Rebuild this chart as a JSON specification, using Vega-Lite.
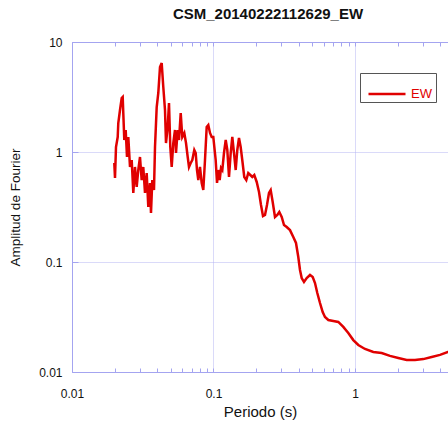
{
  "$schema": "https://vega.github.io/schema/vega-lite/v6.json",
  "autosize": "none",
  "width": 376,
  "height": 330,
  "padding": {"left": 72, "top": 42, "right": 0, "bottom": 49},
  "background": "white",
  "config": {
    "view": {"stroke": null},
    "font": "Liberation Sans",
    "axis": {
      "domainColor": "#a4a4f0",
      "tickColor": "#a4a4f0",
      "gridColor": "#b4b4f2",
      "gridDash": [1, 1],
      "labelColor": "#111111",
      "titleColor": "#111111",
      "labelFont": "Liberation Sans",
      "titleFont": "Liberation Sans",
      "labelFontSize": 12,
      "titleFontSize": 13.5,
      "titleFontWeight": "normal"
    }
  },
  "title": {
    "text": "CSM_20140222112629_EW",
    "font": "Liberation Sans",
    "fontSize": 15,
    "fontWeight": "bold",
    "color": "#111111",
    "anchor": "middle",
    "dx": 8,
    "offset": 14
  },
  "data": {
    "values": [
      {"periodo": 0.0199, "amp": 0.794},
      {"periodo": 0.02013, "amp": 0.58},
      {"periodo": 0.02046, "amp": 1.11},
      {"periodo": 0.02104, "amp": 1.369},
      {"periodo": 0.02124, "amp": 1.835},
      {"periodo": 0.02184, "amp": 2.409},
      {"periodo": 0.02245, "amp": 3.097},
      {"periodo": 0.02282, "amp": 3.162},
      {"periodo": 0.02304, "amp": 2.262},
      {"periodo": 0.02342, "amp": 1.286},
      {"periodo": 0.02396, "amp": 1.585},
      {"periodo": 0.02447, "amp": 0.901},
      {"periodo": 0.025, "amp": 1.369},
      {"periodo": 0.0257, "amp": 0.731},
      {"periodo": 0.02642, "amp": 0.846},
      {"periodo": 0.02712, "amp": 0.424},
      {"periodo": 0.02787, "amp": 0.731},
      {"periodo": 0.02865, "amp": 0.481},
      {"periodo": 0.02941, "amp": 0.686},
      {"periodo": 0.03024, "amp": 0.901},
      {"periodo": 0.03108, "amp": 0.556},
      {"periodo": 0.0319, "amp": 0.731},
      {"periodo": 0.0328, "amp": 0.424},
      {"periodo": 0.03372, "amp": 0.644},
      {"periodo": 0.03461, "amp": 0.316},
      {"periodo": 0.03558, "amp": 0.523},
      {"periodo": 0.03616, "amp": 0.279},
      {"periodo": 0.03694, "amp": 0.556},
      {"periodo": 0.03797, "amp": 0.451},
      {"periodo": 0.0386, "amp": 1.11},
      {"periodo": 0.03968, "amp": 2.565},
      {"periodo": 0.04073, "amp": 3.439},
      {"periodo": 0.04187, "amp": 5.926},
      {"periodo": 0.04304, "amp": 6.444},
      {"periodo": 0.04418, "amp": 3.899},
      {"periodo": 0.04542, "amp": 2.409},
      {"periodo": 0.04616, "amp": 1.207},
      {"periodo": 0.04746, "amp": 1.688},
      {"periodo": 0.04847, "amp": 2.79},
      {"periodo": 0.04951, "amp": 1.11},
      {"periodo": 0.05065, "amp": 0.731},
      {"periodo": 0.05198, "amp": 1.207},
      {"periodo": 0.05344, "amp": 1.585},
      {"periodo": 0.05433, "amp": 0.979},
      {"periodo": 0.05585, "amp": 1.585},
      {"periodo": 0.05705, "amp": 1.286},
      {"periodo": 0.05865, "amp": 2.262},
      {"periodo": 0.06019, "amp": 1.369},
      {"periodo": 0.06218, "amp": 1.489},
      {"periodo": 0.06393, "amp": 1.207},
      {"periodo": 0.06572, "amp": 0.901},
      {"periodo": 0.06713, "amp": 0.731},
      {"periodo": 0.06901, "amp": 0.794},
      {"periodo": 0.07083, "amp": 0.846},
      {"periodo": 0.07316, "amp": 1.043},
      {"periodo": 0.07485, "amp": 0.979},
      {"periodo": 0.07645, "amp": 0.686},
      {"periodo": 0.07809, "amp": 0.556},
      {"periodo": 0.08027, "amp": 0.731},
      {"periodo": 0.08252, "amp": 0.523},
      {"periodo": 0.0847, "amp": 0.451},
      {"periodo": 0.08708, "amp": 0.846},
      {"periodo": 0.08951, "amp": 1.688},
      {"periodo": 0.0919, "amp": 1.76},
      {"periodo": 0.09447, "amp": 1.489},
      {"periodo": 0.09712, "amp": 1.369},
      {"periodo": 0.09968, "amp": 1.369},
      {"periodo": 0.1036, "amp": 0.846},
      {"periodo": 0.1059, "amp": 0.523},
      {"periodo": 0.1081, "amp": 0.686},
      {"periodo": 0.1106, "amp": 0.556},
      {"periodo": 0.113, "amp": 0.715},
      {"periodo": 0.1154, "amp": 0.686},
      {"periodo": 0.1186, "amp": 0.979},
      {"periodo": 0.122, "amp": 1.286},
      {"periodo": 0.1252, "amp": 1.043},
      {"periodo": 0.1287, "amp": 0.593},
      {"periodo": 0.1323, "amp": 0.979},
      {"periodo": 0.1358, "amp": 1.369},
      {"periodo": 0.1396, "amp": 0.979},
      {"periodo": 0.1435, "amp": 0.686},
      {"periodo": 0.1473, "amp": 1.043},
      {"periodo": 0.1514, "amp": 1.34},
      {"periodo": 0.1556, "amp": 1.11},
      {"periodo": 0.1597, "amp": 0.846},
      {"periodo": 0.165, "amp": 0.593},
      {"periodo": 0.1705, "amp": 0.556},
      {"periodo": 0.1761, "amp": 0.644},
      {"periodo": 0.182, "amp": 0.618},
      {"periodo": 0.188, "amp": 0.593},
      {"periodo": 0.1942, "amp": 0.618},
      {"periodo": 0.202, "amp": 0.534},
      {"periodo": 0.2097, "amp": 0.433},
      {"periodo": 0.2166, "amp": 0.33},
      {"periodo": 0.2238, "amp": 0.262},
      {"periodo": 0.2312, "amp": 0.268},
      {"periodo": 0.2388, "amp": 0.33},
      {"periodo": 0.2467, "amp": 0.424},
      {"periodo": 0.2536, "amp": 0.451},
      {"periodo": 0.262, "amp": 0.351},
      {"periodo": 0.272, "amp": 0.2565},
      {"periodo": 0.2824, "amp": 0.268},
      {"periodo": 0.2917, "amp": 0.285},
      {"periodo": 0.3034, "amp": 0.2565},
      {"periodo": 0.315, "amp": 0.217},
      {"periodo": 0.3292, "amp": 0.208},
      {"periodo": 0.3472, "amp": 0.195},
      {"periodo": 0.3664, "amp": 0.169},
      {"periodo": 0.3828, "amp": 0.149},
      {"periodo": 0.3974, "amp": 0.111},
      {"periodo": 0.4086, "amp": 0.0846},
      {"periodo": 0.42, "amp": 0.0715},
      {"periodo": 0.436, "amp": 0.0658},
      {"periodo": 0.4557, "amp": 0.0715},
      {"periodo": 0.4808, "amp": 0.0762},
      {"periodo": 0.5025, "amp": 0.0731},
      {"periodo": 0.5216, "amp": 0.0644},
      {"periodo": 0.5415, "amp": 0.0523},
      {"periodo": 0.5658, "amp": 0.0424},
      {"periodo": 0.591, "amp": 0.0351},
      {"periodo": 0.6137, "amp": 0.0316},
      {"periodo": 0.6477, "amp": 0.0297},
      {"periodo": 0.7024, "amp": 0.0291},
      {"periodo": 0.7621, "amp": 0.0285},
      {"periodo": 0.8266, "amp": 0.0257},
      {"periodo": 0.8967, "amp": 0.0226},
      {"periodo": 0.9727, "amp": 0.0195},
      {"periodo": 1.055, "amp": 0.0176},
      {"periodo": 1.177, "amp": 0.0162},
      {"periodo": 1.347, "amp": 0.0152},
      {"periodo": 1.544, "amp": 0.0149},
      {"periodo": 1.767, "amp": 0.014},
      {"periodo": 2.023, "amp": 0.0134},
      {"periodo": 2.32, "amp": 0.01285},
      {"periodo": 2.655, "amp": 0.01285},
      {"periodo": 3.039, "amp": 0.0131},
      {"periodo": 3.483, "amp": 0.0137},
      {"periodo": 3.988, "amp": 0.0143},
      {"periodo": 4.542, "amp": 0.0152},
      {"periodo": 5.17, "amp": 0.0162}
    ]
  },
  "layer": [
    {
      "mark": {"type": "line", "strokeWidth": 2.5, "clip": true, "interpolate": "linear"},
      "encoding": {
        "x": {
          "field": "periodo",
          "type": "quantitative",
          "scale": {"type": "log", "domain": [0.01, 4.542], "nice": false},
          "axis": {
            "orient": "bottom",
            "title": "Periodo (s)",
            "titleFontSize": 15,
            "values": [0.01, 0.02, 0.03, 0.04, 0.05, 0.06, 0.07, 0.08, 0.09, 0.1, 0.2, 0.3, 0.4, 0.5, 0.6, 0.7, 0.8, 0.9, 1, 2, 3, 4],
            "labelExpr": "abs(log(datum.value)/LN10 - round(log(datum.value)/LN10)) < 0.000001 ? format(datum.value, '~g') : ''",
            "labelFlush": false,
            "labelOverlap": false,
            "tickSize": -4,
            "labelPadding": 20,
            "titlePadding": 5,
            "grid": true,
            "gridOpacity": {"condition": {"test": "abs(log(datum.value)/LN10 - round(log(datum.value)/LN10)) < 0.000001", "value": 1}, "value": 0}
          }
        },
        "y": {
          "field": "amp",
          "type": "quantitative",
          "scale": {"type": "log", "domain": [0.01, 10], "nice": false},
          "axis": {
            "title": "Amplitud de Fourier",
            "values": [0.01, 0.1, 1, 10],
            "format": "~g",
            "tickSize": -6,
            "labelPadding": 16,
            "titlePadding": 16,
            "grid": true
          }
        },
        "color": {
          "datum": "EW",
          "type": "nominal",
          "scale": {"range": ["#e00000"]},
          "legend": {
            "title": "\u00a0",
            "titleOrient": "right",
            "titleFontSize": 13,
            "titlePadding": 3,
            "orient": "none",
            "legendX": 288,
            "legendY": 31,
            "symbolType": "stroke",
            "symbolSize": 1369,
            "symbolStrokeWidth": 2.5,
            "symbolOffset": 6,
            "labelColor": "#e00000",
            "labelFontSize": 13,
            "labelFont": "Liberation Sans",
            "labelOffset": 4,
            "strokeColor": "#555555",
            "fillColor": "white",
            "padding": 1
          }
        }
      }
    },
    {
      "mark": {"type": "line", "opacity": 0},
      "encoding": {
        "x": {
          "field": "periodo",
          "type": "quantitative",
          "axis": {
            "orient": "top",
            "title": null,
            "labels": false,
            "grid": false,
            "values": [0.01, 0.02, 0.03, 0.04, 0.05, 0.06, 0.07, 0.08, 0.09, 0.1, 0.2, 0.3, 0.4, 0.5, 0.6, 0.7, 0.8, 0.9, 1, 2, 3, 4],
            "tickSize": -4
          }
        },
        "y": {"field": "amp", "type": "quantitative"}
      }
    }
  ],
  "resolve": {"axis": {"x": "independent"}}
}
